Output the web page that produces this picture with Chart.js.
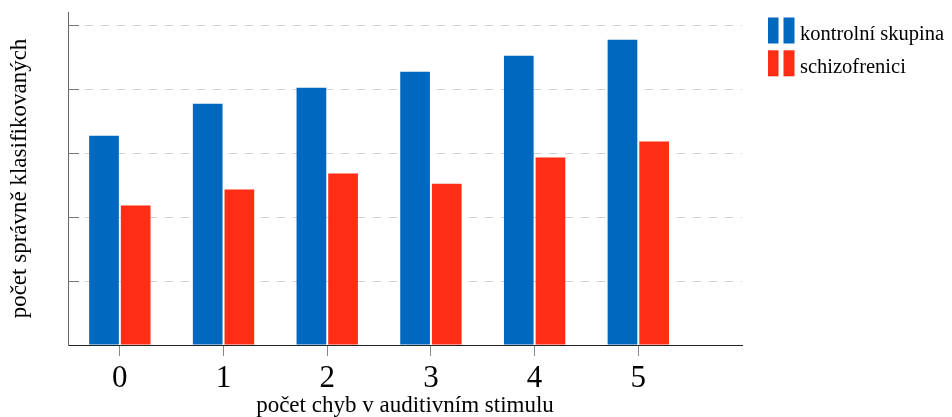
<!DOCTYPE html>
<html>
<head>
<meta charset="utf-8">
<script src="https://cdn.jsdelivr.net/npm/chart.js@4.4.0/dist/chart.umd.min.js"></script>
<style>
  html, body { margin: 0; padding: 0; background: #fff; }
  #graf { display: block; }
</style>
</head>
<body>
<canvas id="graf" width="952" height="417"></canvas>
<script>
// data (jednotka = jeden dilek mrizky)
var chyby = [0, 1, 2, 3, 4, 5];
var kontrolni = [3.27, 3.77, 4.02, 4.27, 4.52, 4.77];
var schizofrenici = [2.18, 2.43, 2.68, 2.52, 2.93, 3.18];
var skupiny = ['kontrolní skupina', 'schizofrenici'];
var barvy = ['#0068bf', '#ff2d15'];

var serif = '"Liberation Serif", "Times New Roman", serif';

function body(hodnoty) {
  return chyby.map(function (c, i) { return { x: c, y: hodnoty[i] }; });
}

// legenda vpravo nahore + kratke ticky dovnitr na ose y
var doplnky = {
  id: 'doplnky',
  afterDraw: function (chart) {
    var ctx = chart.ctx, a = chart.chartArea;
    ctx.save();

    var osaY = chart.scales.y;
    ctx.strokeStyle = '#777';
    ctx.lineWidth = 1;
    osaY.ticks.forEach(function (t) {
      if (t.value === 0) return;
      var py = Math.round(osaY.getPixelForValue(t.value)) + 0.5;
      ctx.beginPath();
      ctx.moveTo(a.left, py);
      ctx.lineTo(a.left + 11, py);
      ctx.stroke();
    });

    ctx.font = '20.5px ' + serif;
    ctx.textBaseline = 'alphabetic';
    chart.data.datasets.forEach(function (ds, i) {
      var y = a.top + 5.5 + i * 32.8;
      ctx.fillStyle = ds.backgroundColor;
      ctx.fillRect(a.right + 26, y, 10.5, 26);
      ctx.fillRect(a.right + 41.5, y, 11, 26);
      ctx.fillStyle = '#000';
      ctx.fillText(ds.label, a.right + 58, y + 22.7);
    });
    ctx.restore();
  }
};

var graf = new Chart(document.getElementById('graf'), {
  type: 'bar',
  data: {
    datasets: [
      {
        label: skupiny[0],
        data: body(kontrolni),
        backgroundColor: barvy[0],
        borderWidth: 0
      },
      {
        label: skupiny[1],
        data: body(schizofrenici),
        backgroundColor: barvy[1],
        borderWidth: 0
      }
    ]
  },
  options: {
    responsive: false,
    animation: false,
    categoryPercentage: 0.611,
    barPercentage: 0.937,
    layout: {
      padding: { top: 12, right: 210, bottom: 0, left: 0 }
    },
    plugins: {
      legend: { display: false },
      tooltip: { enabled: false }
    },
    scales: {
      x: {
        type: 'linear',
        min: -0.5,
        max: 6,
        offset: false,
        afterBuildTicks: function (s) {
          s.ticks = s.ticks.filter(function (t) { return t.value >= 0 && t.value <= 5; });
        },
        afterFit: function (s) { s.height = 72; },
        ticks: {
          stepSize: 1,
          includeBounds: false,
          autoSkip: false,
          maxRotation: 0,
          padding: 4,
          color: '#000',
          font: { family: serif, size: 31 }
        },
        grid: {
          offset: false,
          drawOnChartArea: false,
          drawTicks: true,
          tickLength: 11,
          tickColor: '#888'
        },
        border: { color: '#222', width: 1 },
        title: {
          display: true,
          text: 'počet chyb v auditivním stimulu',
          color: '#000',
          font: { family: serif, size: 23 },
          padding: { top: 0, bottom: -3 }
        }
      },
      y: {
        min: 0,
        max: 333 / 64,
        afterFit: function (s) { s.width = 68; },
        ticks: { display: false, stepSize: 1, includeBounds: false },
        grid: {
          drawTicks: false,
          lineWidth: 1,
          color: function (c) {
            return c.tick && c.tick.value === 0 ? 'rgba(0,0,0,0)' : '#d0d0d0';
          }
        },
        border: { color: '#666', width: 1, dash: [8, 8] },
        title: {
          display: true,
          text: 'počet správně klasifikovaných',
          color: '#000',
          font: { family: serif, size: 23 },
          padding: { top: 6, bottom: 0 }
        }
      }
    }
  },
  plugins: [doplnky]
});
</script>
</body>
</html>
